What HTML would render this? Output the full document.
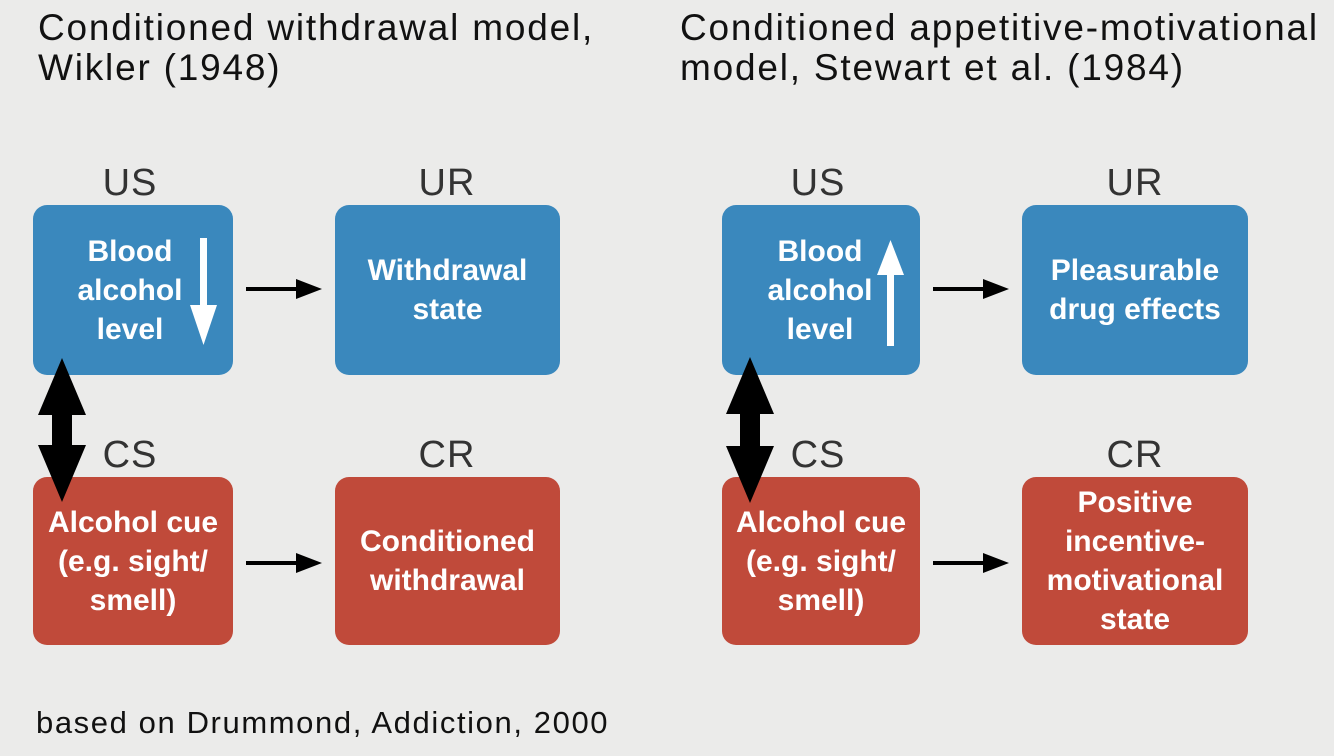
<!DOCTYPE html>
<html><head><style>
body{margin:0;width:1334px;height:756px;background:#ebebea;position:relative;overflow:hidden;font-family:"Liberation Sans",sans-serif}
.t{position:absolute;color:#111;font-size:37px;line-height:40px;letter-spacing:1.8px;white-space:nowrap}
.l{position:absolute;color:#333;font-size:38px;line-height:40px;width:200px;text-align:center;letter-spacing:1px}
.b{position:absolute;border-radius:14px;color:#fff;font-weight:bold;font-size:30px;line-height:39px;display:flex;align-items:center;justify-content:center;text-align:center;white-space:nowrap}
.bl{background:#3a88bd}.rd{background:#c04a3a}
svg{position:absolute;left:0;top:0}
</style></head><body>
<div class="t" style="left:38px;top:8px">Conditioned withdrawal model,<br>Wikler (1948)</div>
<div class="t" style="left:680px;top:8px">Conditioned appetitive-motivational<br>model, Stewart et al. (1984)</div>
<div class="l" style="left:30px;top:163px">US</div>
<div class="l" style="left:347px;top:163px">UR</div>
<div class="l" style="left:30px;top:435px">CS</div>
<div class="l" style="left:347px;top:435px">CR</div>
<div class="l" style="left:718px;top:163px">US</div>
<div class="l" style="left:1035px;top:163px">UR</div>
<div class="l" style="left:718px;top:435px">CS</div>
<div class="l" style="left:1035px;top:435px">CR</div>

<div class="b bl" style="left:33px;top:205px;width:200px;height:170px"><span style="margin-left:-6px">Blood<br>alcohol<br>level</span></div>
<div class="b bl" style="left:335px;top:205px;width:225px;height:170px">Withdrawal<br>state</div>
<div class="b rd" style="left:33px;top:477px;width:200px;height:168px">Alcohol cue<br>(e.g. sight/<br>smell)</div>
<div class="b rd" style="left:335px;top:477px;width:225px;height:168px">Conditioned<br>withdrawal</div>

<div class="b bl" style="left:722px;top:205px;width:198px;height:170px"><span style="margin-left:-2px">Blood<br>alcohol<br>level</span></div>
<div class="b bl" style="left:1022px;top:205px;width:226px;height:170px">Pleasurable<br>drug effects</div>
<div class="b rd" style="left:722px;top:477px;width:198px;height:168px">Alcohol cue<br>(e.g. sight/<br>smell)</div>
<div class="b rd" style="left:1022px;top:477px;width:226px;height:168px">Positive<br>incentive-<br>motivational<br>state</div>

<svg width="1334" height="756">
<rect x="200" y="238" width="7" height="72" fill="#fff"/><polygon points="190,305 217,305 203.5,345" fill="#fff"/>
<rect x="887" y="270" width="7" height="76" fill="#fff"/><polygon points="877,275 904,275 890.5,240" fill="#fff"/>
<g fill="#000">
<rect x="246" y="287" width="52" height="4"/><polygon points="296,279 322,289 296,299"/>
<rect x="246" y="561" width="52" height="4"/><polygon points="296,553 322,563 296,573"/>
<rect x="933" y="287" width="52" height="4"/><polygon points="983,279 1009,289 983,299"/>
<rect x="933" y="561" width="52" height="4"/><polygon points="983,553 1009,563 983,573"/>
<rect x="52" y="400" width="20" height="60" /><polygon points="62,358 86,415 38,415"/><polygon points="62,502 86,445 38,445"/>
<rect x="740" y="400" width="20" height="60" /><polygon points="750,357 774,414 726,414"/><polygon points="750,503 774,446 726,446"/>
</g>
</svg>
<div class="t" style="left:36px;top:703px;font-size:31px;letter-spacing:1.6px">based on Drummond, Addiction, 2000</div>
</body></html>
